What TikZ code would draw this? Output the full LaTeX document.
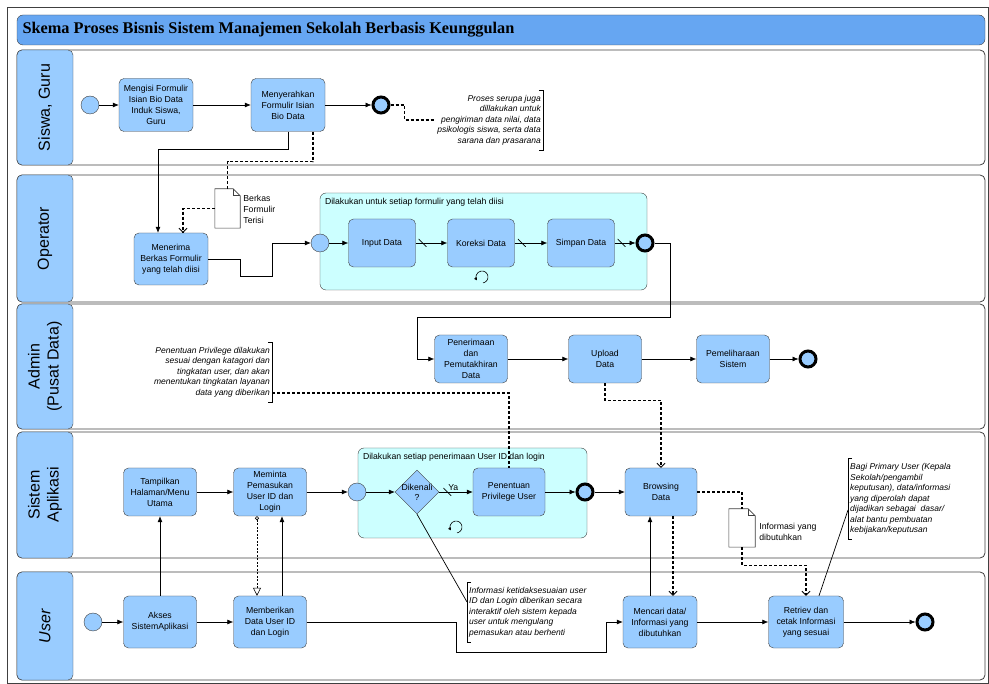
\documentclass[tikz,border=0pt]{standalone}
\usepackage{fontspec}
\setmainfont{Liberation Sans}
\newfontfamily\titlefont{Liberation Serif}
\usetikzlibrary{arrows.meta,shapes.geometric}
\definecolor{taskblue}{RGB}{153,204,255}
\definecolor{titleblue}{RGB}{102,166,242}
\definecolor{subcyan}{RGB}{204,255,255}
\definecolor{edgegray}{RGB}{64,64,64}
\tikzset{
	task/.style={draw=edgegray, fill=taskblue, rounded corners=5pt, minimum width=74pt, minimum height=50pt, align=center, inner sep=1pt, font=\fontsize{8.7}{11}\selectfont},
	subproc/.style={draw=edgegray, fill=subcyan, rounded corners=6pt},
	startev/.style={circle, draw=edgegray, fill=taskblue, minimum size=18pt, inner sep=0pt},
	endev/.style={circle, draw=black, fill=taskblue, line width=3pt, minimum size=16pt, inner sep=0pt},
	gate/.style={diamond, draw=edgegray, fill=taskblue, minimum size=44pt, inner sep=0pt},
	lane/.style={draw=edgegray, rounded corners=5pt, line width=0.8pt},
	lanelabel/.style={draw=edgegray, fill=taskblue, rounded corners=5pt, rotate=90, minimum height=56pt, align=center, font=\fontsize{16}{19}\selectfont},
	lbl/.style={align=left, inner sep=1pt, font=\fontsize{8.7}{11}\selectfont},
	note/.style={inner xsep=2pt, inner ysep=5pt, font=\fontsize{8.5}{10.5}\selectfont\itshape},
	docobj/.style={minimum width=25pt, minimum height=39pt, inner sep=0pt},
	flow/.style={draw=black, line width=0.6pt, -{Latex[length=6pt,width=5pt]}},
	assoc/.style={line width=1.2pt, dash pattern=on 3pt off 2pt},
	openarr/.style={-{Straight Barb[length=4pt,width=8pt,line width=0.8pt]}},
	msg/.style={line width=0.6pt, dash pattern=on 2pt off 1.5pt, {Circle[open,length=4pt]}-{Triangle[open,length=8pt,width=8pt]}},
	thinline/.style={line width=0.7pt},
	slash/.style={inner sep=0pt, minimum size=8pt, path picture={\draw[-, solid, line width=0.7pt] (path picture bounding box.north west) -- (path picture bounding box.south east);}},
	loopmark/.style={line width=0.6pt, -{Latex[length=3pt,width=3.5pt]}}
}
\newcommand{\docshape}[1]{%
	\draw[edgegray, fill=white, line width=0.6pt] (#1.south west) -- (#1.north west) -- ([xshift=-7pt]#1.north east) -- ([yshift=-7pt]#1.north east) -- (#1.south east) -- cycle;
	\draw[edgegray, line width=0.6pt] ([xshift=-7pt]#1.north east) |- ([yshift=-7pt]#1.north east);}
\begin{document}
\begin{tikzpicture}[x=1pt,y=-1pt]
	\useasboundingbox (0,0) rectangle (989,684);
	\draw[black!75, line width=0.8pt] (7,7) rectangle (988,683);
	\node[fill=titleblue, draw=edgegray, rounded corners=6pt, minimum width=968pt, minimum height=30pt] (tb) at (501,30) {};
	\node[anchor=west, font={\fontsize{16.3}{18}\titlefont\bfseries}] (tt) at (19,30) {Skema Proses Bisnis Sistem Manajemen Sekolah Berbasis Keunggulan};
	\foreach \top/\bot/\name [count=\i] in {50/165/{Siswa, Guru}, 175/302/Operator, 304/429/{Admin\\(Pusat Data)}, 432/558/{Sistem\\Aplikasi}, 572/680/\textit{User}}{
		\draw[lane] (17,\top) rectangle (985,\bot);
		\node[lanelabel, minimum width={(\bot-\top)*1pt}] (lane\i) at (45,{(\top+\bot)/2}) {\name};
	}
	% siswa, guru
	\node[startev] (s1) at (90,105) {};
	\node[task, minimum height=53pt] (t1) at (156,105) {Mengisi Formulir\\Isian Bio Data\\Induk Siswa,\\Guru};
	\node[task, minimum height=53pt] (t2) at (288,105) {Menyerahkan\\Formulir Isian\\Bio Data};
	\node[endev] (e1) at (381,105) {};
	\node[note, align=right, anchor=east] (n1) at (543,120) {Proses serupa juga\\dillakukan untuk\\pengiriman data nilai, data\\psikologis siswa, serta data\\sarana dan prasarana};
	\draw[line width=0.6pt] ([xshift=-4pt]n1.north east) -- (n1.north east) -- (n1.south east) -- ([xshift=-4pt]n1.south east);
	% operator
	\node[task, minimum height=52pt] (t3) at (171,259) {Menerima\\Berkas Formulir\\yang telah diisi};
	\node[docobj] (d1) at (227.5,208.5) {};
	\docshape{d1}
	\node[lbl, anchor=north west] (d1l) at ([xshift=2pt,yshift=-5pt]d1.north east) {Berkas\\Formulir\\Terisi};
	\node[subproc, minimum width=327pt, minimum height=97pt] (sp1) at (483.5,241.5) {};
	\node[lbl, anchor=north west] (sp1l) at ([shift={(4pt,-4pt)}]sp1.north west) {Dilakukan untuk setiap formulir yang telah diisi};
	\node[startev] (s2) at (320,243) {};
	\node[task, minimum width=67pt, minimum height=48pt] (i1) at (382,243) {Input Data};
	\node[task, minimum width=67pt, minimum height=48pt] (k1) at (481,243) {Koreksi Data};
	\node[task, minimum width=67pt, minimum height=48pt] (sd1) at (581,243) {Simpan Data};
	\node[endev] (e2) at (645,243) {};
	\coordinate (lp1) at (482,277);
	\draw[loopmark] ([shift={(-80:6pt)}]lp1) arc[start angle=-80, end angle=215, radius=6pt];
	% admin
	\node[task, minimum width=73pt, minimum height=48pt] (p1) at (471,359) {Penerimaan\\dan\\Pemutakhiran\\Data};
	\node[task, minimum width=73pt, minimum height=48pt] (u1) at (605,359) {Upload\\Data};
	\node[task, minimum width=73pt, minimum height=48pt] (m1) at (733,359) {Pemeliharaan\\Sistem};
	\node[endev] (e3) at (808,359) {};
	\node[note, align=right, anchor=east] (n2) at (272,372) {Penentuan Privilege dilakukan\\sesuai dengan katagori dan\\tingkatan user, dan akan\\menentukan tingkatan layanan\\data yang diberikan};
	\draw[line width=0.6pt] ([xshift=-4pt]n2.north east) -- (n2.north east) -- (n2.south east) -- ([xshift=-4pt]n2.south east);
	% sistem aplikasi
	\node[task, minimum width=73pt, minimum height=48pt] (tm1) at (160,492) {Tampilkan\\Halaman/Menu\\Utama};
	\node[task, minimum width=73pt, minimum height=48pt] (mm1) at (270,492) {Meminta\\Pemasukan\\User ID dan\\Login};
	\node[subproc, minimum width=229pt, minimum height=90pt] (sp2) at (472.5,493) {};
	\node[lbl, anchor=north west] (sp2l) at ([shift={(4pt,-4pt)}]sp2.north west) {Dilakukan setiap penerimaan User ID dan login};
	\node[startev] (s3) at (357,492) {};
	\node[gate, label={[align=center, font=\fontsize{8.7}{10}\selectfont]center:Dikenali\\?}] (g1) at (417,492) {};
	\node[task, minimum width=72pt, minimum height=48pt] (pv1) at (509,492) {Penentuan\\Privilege User};
	\node[endev] (e4) at (585,492) {};
	\coordinate (lp2) at (456,527);
	\draw[loopmark] ([shift={(-80:6pt)}]lp2) arc[start angle=-80, end angle=215, radius=6pt];
	\node[task, minimum width=72pt, minimum height=48pt] (b1) at (661,492) {Browsing\\Data};
	\node[docobj, minimum width=26pt, minimum height=38pt] (d2) at (742,528) {};
	\docshape{d2}
	\node[lbl, anchor=west] (d2l) at ([xshift=3pt,yshift=-4pt]d2.east) {Informasi yang\\dibutuhkan};
	\node[note, align=left, anchor=west] (n4) at (848,499) {Bagi Primary User (Kepala\\Sekolah/pengambil\\keputusan), data/informasi\\yang diperolah dapat\\dijadikan sebagai\ \ dasar/\\alat bantu pembuatan\\kebijakan/keputusan};
	\draw[line width=0.6pt] ([xshift=4pt]n4.north west) -- (n4.north west) -- (n4.south west) -- ([xshift=4pt]n4.south west);
	% user
	\node[startev] (s4) at (93,622) {};
	\node[task, minimum width=73pt, minimum height=52pt] (a1) at (160,622) {Akses\\SistemAplikasi};
	\node[task, minimum width=73pt, minimum height=52pt] (mb1) at (270,622) {Memberikan\\Data User ID\\dan Login};
	\node[task, minimum width=74pt, minimum height=52pt] (mc1) at (660,622) {Mencari data/\\Informasi yang\\dibutuhkan};
	\node[task, minimum width=75pt, minimum height=52pt] (r1) at (806,622) {Retriev dan\\cetak Informasi\\yang sesuai};
	\node[endev] (e5) at (925,622) {};
	\node[note, align=left, anchor=west] (n3) at (467,612) {Informasi ketidaksesuaian user\\ID dan Login diberikan secara\\interaktif oleh sistem kepada\\user untuk mengulang\\pemasukan atau berhenti};
	\draw[line width=0.6pt] ([xshift=4pt]n3.north west) -- (n3.north west) -- (n3.south west) -- ([xshift=4pt]n3.south west);
	% connectors
	\draw[flow] (s1) -- (t1);
	\draw[flow] (t1) -- (t2);
	\draw[flow] (t2) -- (e1);
	\draw[assoc] (e1.east) -- ++(14,0) |- (n1.west);
	\draw[flow] (t2.south) -- ++(0,18) -| ([xshift=-13pt]t3.north);
	\draw[assoc] ([xshift=25pt]t2.south) -- ++(0,30) -| (d1.north);
	\draw[assoc, openarr] (d1.west) -| ([xshift=12pt]t3.north);
	\draw[flow] (t3.east) -- ++(32,0) -- ++(0,17) -- ++(32,0) |- (s2.west);
	\draw[flow] (s2) -- (i1);
	\draw[flow] (i1) -- node[pos=.22,slash]{} (k1);
	\draw[flow] (k1) -- node[pos=.22,slash]{} (sd1);
	\draw[flow] (sd1) -- node[pos=.33,slash]{} (e2);
	\draw[flow] (e2.east) -- ++(16,0) -- ++(0,74) -- ++(-253,0) |- (p1.west);
	\draw[flow] (p1) -- (u1);
	\draw[flow] (u1) -- (m1);
	\draw[flow] (m1) -- (e3);
	\draw[assoc] ([yshift=-21pt]n2.east) -| (pv1.north);
	\draw[assoc, openarr] (u1.south) -- ++(0,17) -| (b1.north);
	\draw[flow] (tm1) -- (mm1);
	\draw[flow] (mm1) -- (s3);
	\draw[flow] (s3) -- (g1);
	\draw[flow] (g1) -- node[pos=.24,slash]{} node[pos=.42,above,lbl]{Ya} (pv1);
	\draw[flow] (pv1) -- (e4);
	\draw[flow] (e4) -- (b1);
	\draw[thinline] (g1.south) -- ([yshift=10pt]n3.west);
	\draw[assoc] (b1.east) -| (d2.north);
	\draw[assoc, openarr] (d2.south) -- ++(0,18) -| (r1.north);
	\draw[thinline] ([yshift=-11pt]n4.west) -- ([xshift=13pt]r1.north);
	\draw[flow] (s4) -- (a1);
	\draw[flow] (a1) -- (mb1);
	\draw[flow] (a1) -- (tm1);
	\draw[flow] ([xshift=12pt]mb1.north) -- ([xshift=12pt]mm1.south);
	\draw[msg] ([xshift=-13pt]mm1.south) -- ([xshift=-13pt]mb1.north);
	\draw[flow] (mb1.east) -- ++(150,0) -- ++(0,30) -- ++(150,0) |- (mc1.west);
	\draw[flow] ([xshift=-10pt]mc1.north) -- ([xshift=-10pt]mc1.north |- b1.south);
	\draw[assoc, openarr] ([xshift=12pt]b1.south) -- ([xshift=12pt]b1.south |- mc1.north);
	\draw[flow] (mc1) -- (r1);
	\draw[flow] (r1) -- (e5);
\end{tikzpicture}
\end{document}
